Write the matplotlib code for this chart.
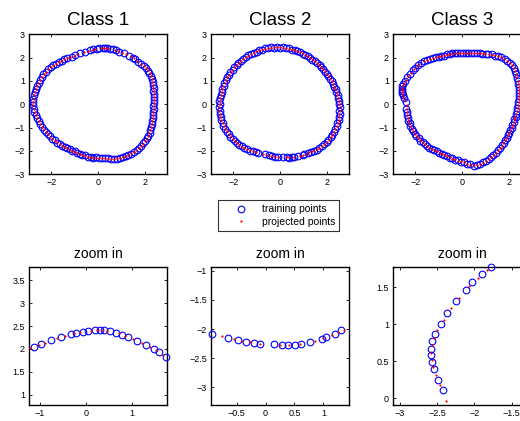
import numpy as np
import matplotlib
matplotlib.use("Agg")
import matplotlib.pyplot as plt
from matplotlib.lines import Line2D
from matplotlib.ticker import FuncFormatter

plt.rcParams['font.family'] = ['Liberation Sans', 'DejaVu Sans']

# ---------------- text ----------------
class_titles = ["Class 1", "Class 2", "Class 3"]
zoom_title = "zoom in"
legend_labels = ["training points", "projected points"]

# ---------------- Class 1 ----------------
# zoomed arc (top of the curve), cartesian
c1_arc_train_x = [-1.125, -0.967, -0.758, -0.54, -0.33, -0.21, -0.06, 0.05, 0.20, 0.30,
                  0.40, 0.52, 0.66, 0.79, 0.91, 1.10, 1.31, 1.48, 1.59, 1.73]
c1_arc_train_y = [2.04, 2.11, 2.19, 2.26, 2.32, 2.36, 2.38, 2.40, 2.41, 2.42,
                  2.41, 2.39, 2.36, 2.31, 2.26, 2.18, 2.09, 2.00, 1.93, 1.83]
c1_arc_proj_x = [-1.20, -1.02, -0.88, -0.62, -0.44, -0.26, -0.115, 0.12, 0.25, 0.36,
                 0.45, 0.72, 0.85, 1.03, 1.21, 1.40, 1.53, 1.68]
c1_arc_proj_y = [2.01, 2.08, 2.14, 2.23, 2.29, 2.34, 2.37, 2.40, 2.415, 2.41,
                 2.40, 2.34, 2.29, 2.21, 2.14, 2.05, 1.97, 1.87]
# rest of the ring, polar (degrees, radius)
c1_ring_deg = [43, 40, 37, 34, 31, 28, 25, 22, 19, 16,
               13, 10, 7, 4, 1, -2, -5, -8, -11, -14,
               -17, -20, -23, -26, -29, -32, -35, -38, -41, -44,
               -47, -50, -53, -56, -59, -62, -65, -68, -71, -74,
               -77, -80, -83, -86, -89, -92, -95, -98, -101, -104,
               -107, -110, -113, -116, -119, -122, -125, -128, -131, -134,
               -137, -140, -143, -146, -149, -152, -155, -158, -161, -164,
               -167, -170, -173, -176, -179, 178, 175, 172, 169, 166,
               163, 160, 157, 154, 151, 148, 145, 142, 139, 136,
               133, 130, 127, 124]
c1_ring_train_r = [2.54, 2.55, 2.60, 2.59, 2.57, 2.58, 2.54, 2.54, 2.48, 2.48,
                   2.44, 2.45, 2.43, 2.41, 2.41, 2.38, 2.41, 2.40, 2.42, 2.44,
                   2.43, 2.47, 2.49, 2.49, 2.53, 2.55, 2.55, 2.58, 2.56, 2.58,
                   2.56, 2.57, 2.54, 2.55, 2.52, 2.52, 2.51, 2.47, 2.46, 2.42,
                   2.40, 2.35, 2.34, 2.30, 2.31, 2.28, 2.30, 2.27, 2.29, 2.26,
                   2.28, 2.25, 2.27, 2.25, 2.28, 2.28, 2.31, 2.31, 2.36, 2.36,
                   2.41, 2.41, 2.46, 2.46, 2.50, 2.51, 2.56, 2.57, 2.63, 2.64,
                   2.69, 2.70, 2.75, 2.75, 2.79, 2.77, 2.78, 2.76, 2.77, 2.74,
                   2.75, 2.71, 2.72, 2.68, 2.68, 2.63, 2.62, 2.57, 2.55, 2.50,
                   2.48, 2.43, 2.42, 2.37]
c1_ring_proj_r = [2.53, 2.56, 2.58, 2.60, 2.59, 2.57, 2.54, 2.52, 2.49, 2.47,
                  2.45, 2.43, 2.42, 2.40, 2.40, 2.39, 2.40, 2.40, 2.42, 2.43,
                  2.44, 2.46, 2.48, 2.50, 2.52, 2.54, 2.56, 2.57, 2.57, 2.57,
                  2.57, 2.56, 2.55, 2.54, 2.53, 2.51, 2.50, 2.48, 2.45, 2.43,
                  2.39, 2.36, 2.33, 2.31, 2.30, 2.29, 2.29, 2.28, 2.28, 2.27,
                  2.27, 2.26, 2.26, 2.26, 2.27, 2.29, 2.30, 2.32, 2.35, 2.37,
                  2.40, 2.42, 2.45, 2.47, 2.49, 2.52, 2.55, 2.58, 2.62, 2.65,
                  2.68, 2.71, 2.74, 2.76, 2.78, 2.78, 2.77, 2.77, 2.76, 2.75,
                  2.74, 2.72, 2.71, 2.69, 2.67, 2.64, 2.61, 2.58, 2.54, 2.51,
                  2.47, 2.44, 2.41, 2.38]

# ---------------- Class 2 ----------------
c2_arc_train_x = [-0.925, -0.645, -0.48, -0.33, -0.20, -0.09, 0.145, 0.285, 0.395, 0.505,
                  0.61, 0.76, 0.97, 1.045, 1.195, 1.31]
c2_arc_train_y = [-2.08, -2.15, -2.19, -2.22, -2.24, -2.25, -2.26, -2.27, -2.28, -2.27,
                  -2.25, -2.22, -2.17, -2.145, -2.085, -2.025]
c2_arc_proj_x = [-0.75, -0.54, -0.40, -0.27, -0.09, 0.25, 0.40, 0.59, 0.85, 1.00,
                 1.14, 1.25, 1.36]
c2_arc_proj_y = [-2.12, -2.18, -2.20, -2.23, -2.25, -2.27, -2.27, -2.25, -2.20, -2.16,
                 -2.11, -2.06, -2.01]
c2_ring_deg = [-117, -120, -123, -126, -129, -132, -135, -138, -141, -144,
               -147, -150, -153, -156, -159, -162, -165, -168, -171, -174,
               -177, -180,
               177, 174, 171, 168, 165, 162, 159, 156, 153, 150,
               147, 144, 141, 138, 135, 132, 129, 126, 123, 120,
               117, 114, 111, 108, 105, 102, 99, 96, 93, 90,
               87, 84, 81, 78, 75, 72, 69, 66, 63, 60,
               57, 54, 51, 48, 45, 42, 39, 36, 33, 30,
               27, 24, 21, 18, 15, 12, 9, 6, 3, 0,
               -3, -6, -9, -12, -15, -18, -21, -24, -27, -30,
               -33, -36, -39, -42, -45, -48, -51, -54]
c2_ring_train_r = [2.31, 2.32, 2.37, 2.38, 2.43, 2.43, 2.47, 2.47, 2.50, 2.50,
                   2.54, 2.53, 2.57, 2.56, 2.60, 2.58, 2.61, 2.60, 2.62, 2.60,
                   2.61, 2.58,
                   2.60, 2.57, 2.58, 2.55, 2.57, 2.54, 2.56, 2.53, 2.55, 2.52,
                   2.54, 2.51, 2.53, 2.50, 2.52, 2.49, 2.51, 2.48, 2.50, 2.47,
                   2.49, 2.47, 2.49, 2.46, 2.48, 2.46, 2.47, 2.44, 2.46, 2.43,
                   2.44, 2.41, 2.43, 2.40, 2.41, 2.38, 2.40, 2.38, 2.39, 2.37,
                   2.39, 2.37, 2.39, 2.37, 2.40, 2.38, 2.40, 2.39, 2.42, 2.40,
                   2.43, 2.42, 2.45, 2.44, 2.47, 2.47, 2.50, 2.50, 2.54, 2.53,
                   2.57, 2.56, 2.59, 2.58, 2.61, 2.59, 2.61, 2.59, 2.61, 2.59,
                   2.60, 2.57, 2.58, 2.55, 2.54, 2.50, 2.50, 2.46]
c2_ring_proj_r = [2.30, 2.33, 2.36, 2.39, 2.42, 2.44, 2.46, 2.48, 2.49, 2.51,
                  2.53, 2.54, 2.56, 2.57, 2.59, 2.59, 2.60, 2.61, 2.61, 2.61,
                  2.60, 2.59,
                  2.59, 2.58, 2.57, 2.56, 2.56, 2.55, 2.55, 2.54, 2.54, 2.53,
                  2.53, 2.52, 2.52, 2.51, 2.51, 2.50, 2.50, 2.49, 2.49, 2.48,
                  2.48, 2.48, 2.48, 2.47, 2.47, 2.47, 2.46, 2.45, 2.45, 2.44,
                  2.43, 2.42, 2.42, 2.41, 2.40, 2.39, 2.39, 2.39, 2.38, 2.38,
                  2.38, 2.38, 2.38, 2.38, 2.39, 2.39, 2.39, 2.40, 2.41, 2.41,
                  2.42, 2.43, 2.44, 2.45, 2.46, 2.48, 2.49, 2.51, 2.53, 2.54,
                  2.56, 2.57, 2.58, 2.59, 2.60, 2.60, 2.60, 2.60, 2.60, 2.60,
                  2.59, 2.58, 2.57, 2.56, 2.53, 2.51, 2.49, 2.47]

# ---------------- Class 3 ----------------
c3_arc_train_x = [-1.775, -1.90, -2.025, -2.11, -2.24, -2.36, -2.45, -2.53, -2.57, -2.58,
                  -2.58, -2.565, -2.535, -2.485, -2.415]
c3_arc_train_y = [1.77, 1.675, 1.57, 1.47, 1.31, 1.15, 1.00, 0.865, 0.77, 0.67,
                  0.58, 0.49, 0.395, 0.25, 0.11]
c3_arc_proj_x = [-1.83, -1.95, -2.07, -2.20, -2.31, -2.41, -2.50, -2.545, -2.57, -2.58,
                 -2.57, -2.55, -2.51, -2.46, -2.38]
c3_arc_proj_y = [1.73, 1.63, 1.52, 1.36, 1.22, 1.06, 0.92, 0.81, 0.72, 0.61,
                 0.52, 0.43, 0.31, 0.185, -0.03]
c3_ring_deg = [131, 128, 125, 122, 119, 116, 113, 110, 107, 104,
               101, 98, 95, 92, 89, 86, 83, 80, 77, 74,
               71, 68, 65, 62, 59, 56, 53, 50, 47, 44,
               41, 38, 35, 32, 29, 26, 23, 20, 17, 14,
               11, 8, 5, 2, -1, -4, -7, -10, -13, -16,
               -19, -22, -25, -28, -31, -34, -37, -40, -43, -46,
               -49, -52, -55, -58, -61, -64, -67, -70, -73, -76,
               -79, -82, -85, -88, -91, -94, -97, -100, -103, -106,
               -109, -112, -115, -118, -121, -124, -127, -130, -133, -136,
               -139, -142, -145, -148, -151, -154, -157, -160, -163, -166,
               -169, -172, -175]
c3_ring_train_r = [2.47, 2.41, 2.39, 2.34, 2.32, 2.27, 2.27, 2.22, 2.24, 2.21,
                   2.22, 2.20, 2.22, 2.20, 2.22, 2.21, 2.23, 2.22, 2.26, 2.27,
                   2.32, 2.34, 2.40, 2.42, 2.49, 2.52, 2.59, 2.62, 2.68, 2.69,
                   2.73, 2.71, 2.72, 2.68, 2.67, 2.62, 2.61, 2.56, 2.55, 2.50,
                   2.50, 2.45, 2.45, 2.42, 2.42, 2.38, 2.39, 2.35, 2.36, 2.33,
                   2.35, 2.33, 2.36, 2.34, 2.37, 2.37, 2.40, 2.40, 2.44, 2.45,
                   2.49, 2.49, 2.54, 2.55, 2.59, 2.60, 2.65, 2.65, 2.69, 2.68,
                   2.68, 2.60, 2.56, 2.48, 2.46, 2.41, 2.39, 2.35, 2.34, 2.30,
                   2.31, 2.28, 2.29, 2.27, 2.30, 2.29, 2.33, 2.32, 2.35, 2.34,
                   2.37, 2.36, 2.39, 2.38, 2.40, 2.39, 2.41, 2.39, 2.41, 2.39,
                   2.40, 2.38, 2.39]
c3_ring_proj_r = [2.46, 2.42, 2.38, 2.35, 2.31, 2.28, 2.26, 2.24, 2.23, 2.22,
                  2.21, 2.21, 2.21, 2.21, 2.21, 2.22, 2.22, 2.23, 2.25, 2.28,
                  2.31, 2.35, 2.38, 2.43, 2.48, 2.53, 2.58, 2.63, 2.67, 2.70,
                  2.72, 2.72, 2.71, 2.69, 2.66, 2.63, 2.60, 2.57, 2.54, 2.51,
                  2.49, 2.46, 2.44, 2.43, 2.41, 2.39, 2.38, 2.36, 2.35, 2.34,
                  2.34, 2.34, 2.35, 2.35, 2.36, 2.38, 2.39, 2.41, 2.43, 2.46,
                  2.48, 2.50, 2.53, 2.56, 2.58, 2.61, 2.64, 2.66, 2.68, 2.69,
                  2.67, 2.61, 2.55, 2.49, 2.45, 2.42, 2.38, 2.36, 2.33, 2.31,
                  2.30, 2.29, 2.28, 2.28, 2.29, 2.30, 2.32, 2.33, 2.34, 2.35,
                  2.36, 2.37, 2.38, 2.39, 2.39, 2.40, 2.40, 2.40, 2.40, 2.40,
                  2.39, 2.39, 2.38]

# zoom windows (x limits, y limits) and ticks
zoom_xlims = [(-1.23, 1.76), (-0.94, 1.44), (-3.09, -1.24)]
zoom_ylims = [(0.78, 3.80), (-3.30, -0.93), (-0.085, 1.78)]
zoom_xticks = [[-1, 0, 1], [-0.5, 0, 0.5, 1], [-3, -2.5, -2, -1.5]]
zoom_yticks = [[1, 1.5, 2, 2.5, 3, 3.5], [-3, -2.5, -2, -1.5, -1], [0, 0.5, 1, 1.5]]
full_xlim = (-2.96, 2.96)
full_ylim = (-3.0, 3.0)
full_xticks = [-2, 0, 2]
full_yticks = [-3, -2, -1, 0, 1, 2, 3]


def polar_xy(deg, r):
    a = np.radians(np.asarray(deg, float))
    r = np.asarray(r, float)
    return r * np.cos(a), r * np.sin(a)


classes = []
for (atx, aty, apx, apy, rdeg, rtr, rpr) in [
        (c1_arc_train_x, c1_arc_train_y, c1_arc_proj_x, c1_arc_proj_y,
         c1_ring_deg, c1_ring_train_r, c1_ring_proj_r),
        (c2_arc_train_x, c2_arc_train_y, c2_arc_proj_x, c2_arc_proj_y,
         c2_ring_deg, c2_ring_train_r, c2_ring_proj_r),
        (c3_arc_train_x, c3_arc_train_y, c3_arc_proj_x, c3_arc_proj_y,
         c3_ring_deg, c3_ring_train_r, c3_ring_proj_r)]:
    rx, ry = polar_xy(rdeg, rtr)
    px, py = polar_xy(rdeg, rpr)
    tx = np.concatenate([np.asarray(atx, float), rx])
    ty = np.concatenate([np.asarray(aty, float), ry])
    qx = np.concatenate([np.asarray(apx, float), px])
    qy = np.concatenate([np.asarray(apy, float), py])
    classes.append((tx, ty, qx, qy))

W, H = 520, 421
fig = plt.figure(figsize=(W / 100, H / 100), dpi=100)


def add_ax(left, top, w, h):
    return fig.add_axes([left / W, 1 - (top + h) / H, w / W, h / H])


def fmt(v, pos):
    s = f"{v:g}"
    return s.replace("-", "\u2212")


def style(ax, xlim, ylim, xt, yt):
    ax.set_xlim(*xlim)
    ax.set_ylim(*ylim)
    ax.set_xticks(xt)
    ax.set_yticks(yt)
    ax.xaxis.set_major_formatter(FuncFormatter(fmt))
    ax.yaxis.set_major_formatter(FuncFormatter(fmt))
    ax.tick_params(direction='in', top=True, right=True, length=2.2, width=0.6,
                   labelsize=6.5, pad=3, colors='black')
    for s in ax.spines.values():
        s.set_linewidth(1.0)


MS_TRAIN, MEW_TRAIN, MS_PROJ = 4.8, 0.8, 1.6


def draw(ax, tx, ty, qx, qy, xlim, ylim):
    mt = (tx >= xlim[0]) & (tx <= xlim[1]) & (ty >= ylim[0]) & (ty <= ylim[1])
    mq = (qx >= xlim[0]) & (qx <= xlim[1]) & (qy >= ylim[0]) & (qy <= ylim[1])
    ax.plot(tx[mt], ty[mt], 'o', ms=MS_TRAIN, mfc='none', mec='#0000ff', mew=MEW_TRAIN,
            clip_on=False, zorder=3)
    ax.plot(qx[mq], qy[mq], 'o', ms=MS_PROJ, mfc='#ff0000', mec='none',
            clip_on=False, zorder=4)


lefts = [29, 211, 393]
for i in range(3):
    tx, ty, qx, qy = classes[i]
    ax = add_ax(lefts[i], 34.3, 138, 140)
    style(ax, full_xlim, full_ylim, full_xticks, full_yticks)
    draw(ax, tx, ty, qx, qy, full_xlim, full_ylim)
    ax.set_title(class_titles[i], fontsize=13.5, pad=7)

    axz = add_ax(lefts[i], 266.7, 138, 138)
    style(axz, zoom_xlims[i], zoom_ylims[i], zoom_xticks[i], zoom_yticks[i])
    draw(axz, tx, ty, qx, qy, zoom_xlims[i], zoom_ylims[i])
    axz.set_title(zoom_title, fontsize=10, pad=6)

handles = [Line2D([], [], ls='none', marker='o', ms=MS_TRAIN, mfc='none', mec='#0000ff',
                  mew=MEW_TRAIN),
           Line2D([], [], ls='none', marker='o', ms=MS_PROJ, mfc='#ff0000', mec='none')]
leg = fig.legend(handles, legend_labels, loc='upper left',
                 bbox_to_anchor=(218 / W, 1 - 200 / H), frameon=True, fancybox=False,
                 edgecolor='black', fontsize=7.5, borderpad=0.4, labelspacing=0.25,
                 handlelength=3.6, handletextpad=0.21, borderaxespad=0)
leg.get_frame().set_linewidth(0.8)

fig.savefig("out.png", dpi=100)
